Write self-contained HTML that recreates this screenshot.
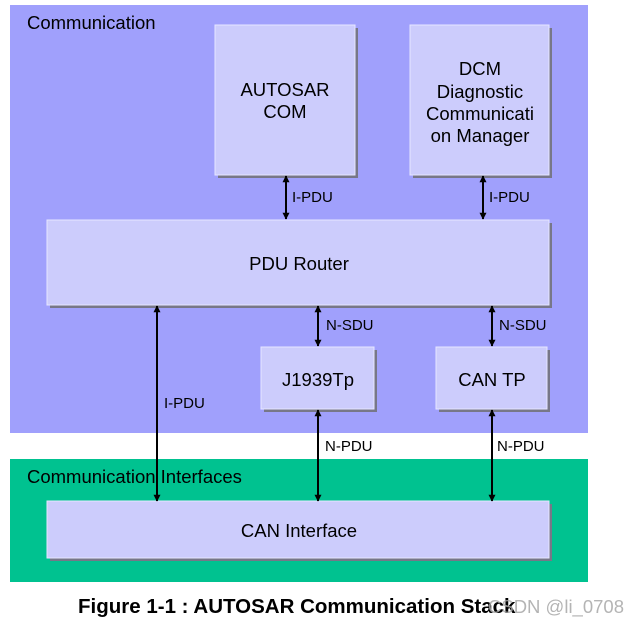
<!DOCTYPE html>
<html><head><meta charset="utf-8"><style>
html,body{margin:0;padding:0;background:#fff;width:640px;height:626px;overflow:hidden}
svg text{font-family:"Liberation Sans",Arial,sans-serif;fill:#000}
</style></head><body>
<svg width="640" height="626" viewBox="0 0 640 626" xmlns="http://www.w3.org/2000/svg">
<defs>
<marker id="ah" viewBox="0 0 10 10" refX="9" refY="5" markerWidth="7" markerHeight="8" markerUnits="userSpaceOnUse" orient="auto-start-reverse">
<path d="M0,0 L10,5 L0,10 z" fill="#000"/></marker>
</defs>
<rect x="10" y="5" width="578" height="428" fill="#a0a0fc"/>
<rect x="10" y="459" width="578" height="123" fill="#00c290"/>
<text x="27" y="29" font-size="18.5">Communication</text>
<text x="27" y="483" font-size="18.5">Communication Interfaces</text>
<g>
<rect x="218" y="28" width="140" height="150" fill="#777788"/>
<rect x="215" y="25" width="140" height="150" fill="#ccccfc" stroke="#e6e6ff" stroke-width="1"/>
<rect x="413" y="28" width="139" height="150" fill="#777788"/>
<rect x="410" y="25" width="139" height="150" fill="#ccccfc" stroke="#e6e6ff" stroke-width="1"/>
<rect x="50" y="223" width="502" height="85" fill="#777788"/>
<rect x="47" y="220" width="502" height="85" fill="#ccccfc" stroke="#e6e6ff" stroke-width="1"/>
<rect x="264" y="350" width="113" height="62" fill="#777788"/>
<rect x="261" y="347" width="113" height="62" fill="#ccccfc" stroke="#e6e6ff" stroke-width="1"/>
<rect x="439" y="350" width="111" height="62" fill="#777788"/>
<rect x="436" y="347" width="111" height="62" fill="#ccccfc" stroke="#e6e6ff" stroke-width="1"/>
<rect x="50" y="504" width="502" height="57" fill="#777788"/>
<rect x="47" y="501" width="502" height="57" fill="#ccccfc" stroke="#e6e6ff" stroke-width="1"/>
</g>
<g font-size="18.5" text-anchor="middle">
<text x="285" y="96">AUTOSAR</text><text x="285" y="118">COM</text>
<text x="480" y="75">DCM</text><text x="480" y="98">Diagnostic</text><text x="480" y="120">Communicati</text><text x="480" y="142">on Manager</text>
<text x="299" y="270">PDU Router</text>
<text x="318" y="386">J1939Tp</text>
<text x="492" y="386">CAN TP</text>
<text x="299" y="537">CAN Interface</text>
</g>
<g stroke="#000" stroke-width="2" marker-start="url(#ah)" marker-end="url(#ah)">
<line x1="286" y1="176" x2="286" y2="219"/>
<line x1="483" y1="176" x2="483" y2="219"/>
<line x1="318" y1="306" x2="318" y2="346"/>
<line x1="492" y1="306" x2="492" y2="346"/>
<line x1="318" y1="410" x2="318" y2="501"/>
<line x1="492" y1="410" x2="492" y2="501"/>
<line x1="157" y1="306" x2="157" y2="501"/>
</g>
<g font-size="15">
<text x="292" y="202">I-PDU</text>
<text x="489" y="202">I-PDU</text>
<text x="326" y="330">N-SDU</text>
<text x="499" y="330">N-SDU</text>
<text x="164" y="408">I-PDU</text>
<text x="325" y="451">N-PDU</text>
<text x="497" y="451">N-PDU</text>
</g>
<text x="78" y="613" font-size="20.5" font-weight="bold">Figure 1-1 : AUTOSAR Communication Stack</text>
<text x="488" y="613" font-size="18.5" style="fill:#a8a8a8;opacity:0.85">CSDN @li_0708</text>
</svg>
</body></html>
